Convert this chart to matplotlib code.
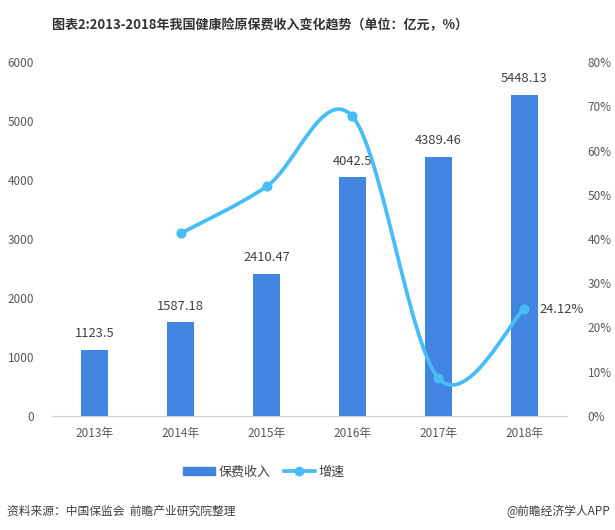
import numpy as np
import matplotlib
matplotlib.use("Agg")
import matplotlib.pyplot as plt
from matplotlib.path import Path
from matplotlib.patches import PathPatch, Patch
from matplotlib.lines import Line2D

plt.rcParams['font.family'] = ['Noto Sans CJK SC', 'DejaVu Sans']

# 数据
years = ["2013年", "2014年", "2015年", "2016年", "2017年", "2018年"]
income = [1123.5, 1587.18, 2410.47, 4042.5, 4389.46, 5448.13]
income_labels = ["1123.5", "1587.18", "2410.47", "4042.5", "4389.46", "5448.13"]
growth = [None, 41.27, 51.87, 67.71, 8.58, 24.12]
left_ticks = [0, 1000, 2000, 3000, 4000, 5000, 6000]
right_ticks = [0, 10, 20, 30, 40, 50, 60, 70, 80]

BAR_C = "#4285e0"
LINE_C = "#47bdf5"
TXT_C = "#404040"
TICK_C = "#595959"

fig = plt.figure(figsize=(6.15, 5.3), dpi=100)
ax = fig.add_axes([52/615, 114/530, 515/615, 354/530])
ax2 = ax.twinx()

x = np.arange(len(years))
ax.bar(x, income, width=0.315, color=BAR_C, zorder=2)
for xi, v, s in zip(x, income, income_labels):
    ax.annotate(s, (xi, v), xytext=(0, 7), textcoords="offset points",
                ha="center", va="bottom", fontsize=9.3, color=TXT_C)

ax.set_xlim(-0.5, 5.5)
ax.set_ylim(0, 6000)
ax.set_yticks(left_ticks)
ax.set_xticks(x)
ax.set_xticklabels(years)
ax2.set_ylim(0, 80)
ax2.set_yticks(right_ticks)
ax2.set_yticklabels([f"{t}%" for t in right_ticks])

for a in (ax, ax2):
    for sp in a.spines.values():
        sp.set_visible(False)
    a.tick_params(length=0, labelsize=8.5, labelcolor=TICK_C)
ax.spines['bottom'].set_visible(True)
ax.spines['bottom'].set_color("#d0d0d0")
ax.tick_params(axis='y', pad=13)
ax.tick_params(axis='x', pad=8)
ax2.tick_params(axis='y', pad=15)

# 平滑曲线 (Catmull-Rom -> Bezier)
gx = [xi for xi, g in zip(x, growth) if g is not None]
gy = [g for g in growth if g is not None]
pts = np.column_stack([gx, gy]).astype(float)
n = len(pts)
verts = [pts[0]]
codes = [Path.MOVETO]
for i in range(n - 1):
    p0 = pts[max(i - 1, 0)]
    p1 = pts[i]
    p2 = pts[i + 1]
    p3 = pts[min(i + 2, n - 1)]
    c1 = p1 + (p2 - p0) / 6
    c2 = p2 - (p3 - p1) / 6
    verts += [c1, c2, p2]
    codes += [Path.CURVE4] * 3
ax2.add_patch(PathPatch(Path(verts, codes), facecolor="none", edgecolor=LINE_C,
                        lw=2.7, capstyle="round", zorder=3))
ax2.plot(gx, gy, "o", color=LINE_C, ms=6.3, zorder=4)
ax2.annotate("24.12%", (gx[-1], gy[-1]), xytext=(11, 0), textcoords="offset points",
             ha="left", va="center", fontsize=9.3, color=TXT_C)

# 标题
fig.text(260/615, 505/530, "图表2:2013-2018年我国健康险原保费收入变化趋势（单位：亿元，%）",
         ha="center", va="center", fontsize=9.4, fontweight="bold", color="#333333")

# 图例
handles = [Patch(color=BAR_C), Line2D([], [], color=LINE_C, lw=2.7, marker="o", ms=6)]
fig.legend(handles, ["保费收入", "增速"], loc="center", bbox_to_anchor=(264/615, 58/530),
           ncol=2, frameon=False, fontsize=9.4, handlelength=2.4, handleheight=0.6,
           columnspacing=1.0, handletextpad=0.3, labelcolor=TXT_C)

# 来源
fig.text(7/615, 19/530, "资料来源：中国保监会  前瞻产业研究院整理", ha="left", va="center",
         fontsize=8.5, style="italic", color=TXT_C)
fig.text(610/615, 19/530, "@前瞻经济学人APP", ha="right", va="center",
         fontsize=8.5, color=TXT_C)

fig.savefig("out.png", dpi=100)
